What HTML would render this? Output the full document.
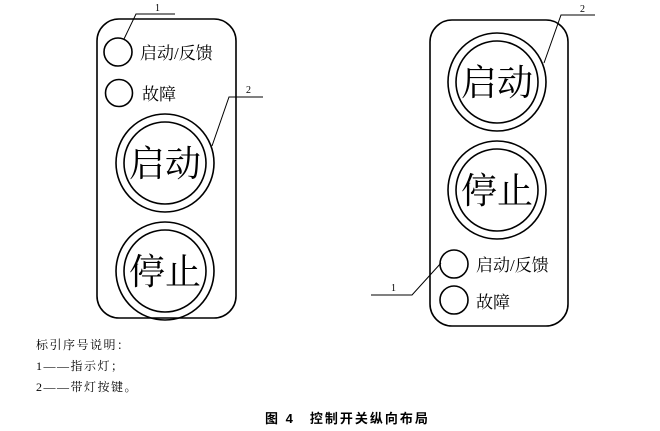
<!DOCTYPE html>
<html><head><meta charset="utf-8"><style>
html,body{margin:0;padding:0;background:#fff;}
svg{display:block;}
text{font-family:"Liberation Serif","Noto Serif CJK SC",serif;fill:#000;}
.s{font-family:"Liberation Sans","Noto Sans CJK SC",sans-serif;}
</style></head><body>
<svg width="660" height="431" viewBox="0 0 660 431">
<g fill="none" stroke="#000" stroke-width="1.6">
<rect x="97" y="19" width="139" height="299" rx="22"/>
<circle cx="118" cy="52" r="14"/>
<circle cx="119" cy="93" r="13.5"/>
<circle cx="165" cy="163" r="49"/><circle cx="165" cy="163" r="41"/>
<circle cx="165" cy="271" r="49"/><circle cx="165" cy="271" r="41"/>
<rect x="430" y="20" width="138" height="306" rx="22"/>
<circle cx="497" cy="82" r="49"/><circle cx="497" cy="82" r="41"/>
<circle cx="497" cy="190" r="49"/><circle cx="497" cy="190" r="41"/>
<circle cx="454" cy="264" r="14"/>
<circle cx="454" cy="300" r="14"/>
</g>
<g fill="none" stroke="#000" stroke-width="1">
<polyline points="175,14 136,14 124,39"/>
<polyline points="263,97 229,97 212,146"/>
<polyline points="595,15 561,15 544,63"/>
<polyline points="371,295 412,295 441,263"/>
</g>
<text x="155" y="11" font-size="10">1</text>
<text x="246" y="93" font-size="10">2</text>
<text x="580" y="12" font-size="10">2</text>
<text x="391" y="291" font-size="10">1</text>
<text x="140" y="59" font-size="17">启动/反馈</text>
<text x="142" y="100" font-size="17">故障</text>
<text x="476" y="271" font-size="17">启动/反馈</text>
<text x="476" y="308" font-size="17">故障</text>
<text x="165" y="176" font-size="36" text-anchor="middle">启动</text>
<text x="165" y="284" font-size="36" text-anchor="middle">停止</text>
<text x="497" y="95" font-size="36" text-anchor="middle">启动</text>
<text x="497" y="203" font-size="36" text-anchor="middle">停止</text>
<text x="36" y="349" font-size="12" letter-spacing="1.5">标引序号说明：</text>
<text x="36" y="370" font-size="12" letter-spacing="1.5">1——指示灯；</text>
<text x="36" y="391" font-size="12" letter-spacing="1.5">2——带灯按键。</text>
<text class="s" x="265" y="423" font-size="13" font-weight="bold" letter-spacing="2">图 4　控制开关纵向布局</text>
</svg>
</body></html>
